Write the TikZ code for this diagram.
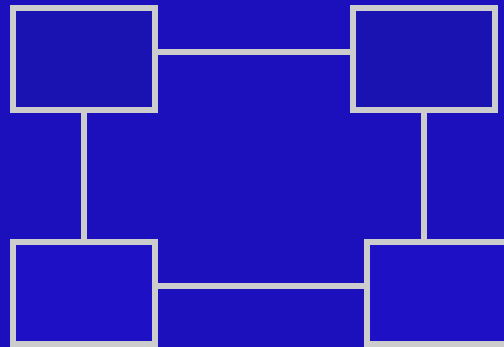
\documentclass[tikz,border=0pt]{standalone}
\usetikzlibrary{calc}
\definecolor{bgblue}{HTML}{1C10BC}
\definecolor{topfill}{HTML}{1A13B2}
\definecolor{botfill}{HTML}{1E10C5}
\definecolor{edgegray}{HTML}{CCCCCC}
\begin{document}
\begin{tikzpicture}[x=1pt,y=-1pt,
  boxnode/.style={draw=edgegray,line width=6pt,rectangle,inner sep=0pt,
    minimum width=141.5pt,minimum height=102pt},
  link/.style={draw=edgegray,line width=6pt}]
\fill[bgblue] (0,0) rectangle (504,347);
\useasboundingbox (0,0) rectangle (504,347);
\begin{scope}
\clip (0,0) rectangle (504,347);
\node[boxnode,fill=topfill] (tl) at (83.75,59.3) {};
\node[boxnode,fill=topfill] (tr) at (423.75,59.3) {};
\node[boxnode,fill=botfill] (bl) at (83.75,293) {};
\node[boxnode,fill=botfill] (br) at (437.75,293) {};
\draw[link] ([yshift=7.3pt]tl.east) -- ([yshift=7.3pt]tr.west);
\draw[link] (tl.south) -- (bl.north);
\draw[link] (tr.south) -- (tr.south |- br.north);
\draw[link] ([yshift=7pt]bl.east) -- ([yshift=7pt]br.west);
\end{scope}
\end{tikzpicture}
\end{document}
